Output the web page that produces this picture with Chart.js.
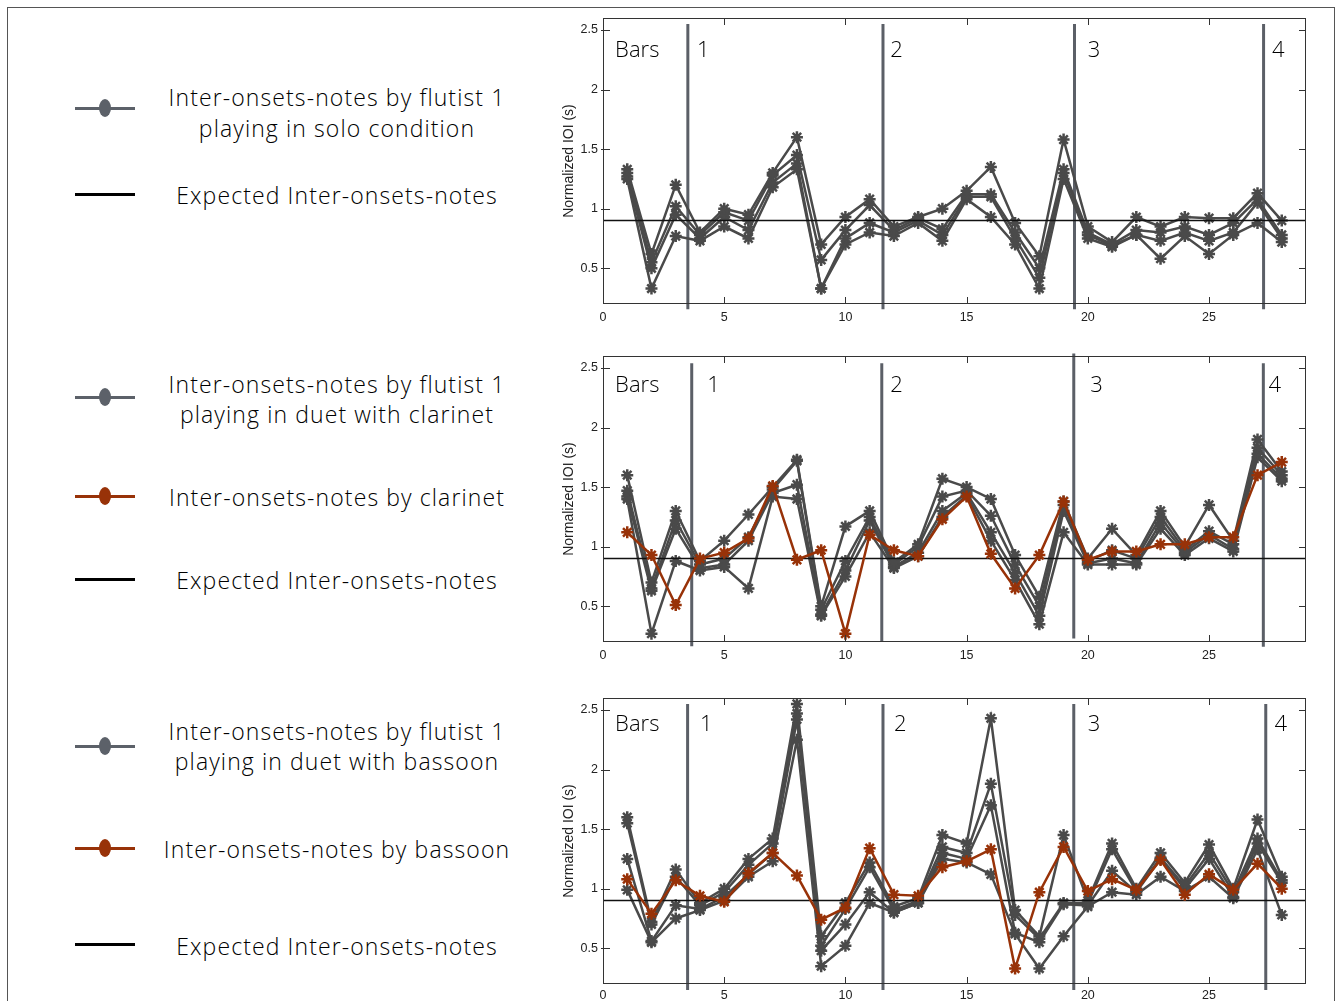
<!DOCTYPE html>
<html><head><meta charset="utf-8">
<script src="https://cdn.jsdelivr.net/npm/chart.js@4.4.1/dist/chart.umd.min.js"></script>
<style>
html,body{margin:0;padding:0;background:#fff;}
body{width:1340px;height:1001px;position:relative;overflow:hidden;font-family:"Open Sans",Roboto,"Liberation Sans",sans-serif;}
#frame{position:absolute;left:7px;top:7px;width:1326px;height:1000px;border:1px solid #555;border-bottom:none;}
canvas{position:absolute;}
.icon{position:absolute;left:75px;width:60px;height:3px;}
.dot{position:absolute;left:24px;top:-7.5px;width:12px;height:18px;border-radius:50%;}
.txt{position:absolute;left:137px;width:400px;text-align:center;font-size:23px;font-weight:300;letter-spacing:1.1px;color:#000;white-space:nowrap;}
</style></head>
<body>
<div id="frame"></div>
<canvas id="c1" width="790" height="335" style="left:545px;top:0px"></canvas>
<canvas id="c2" width="790" height="340" style="left:545px;top:335px"></canvas>
<canvas id="c3" width="790" height="326" style="left:545px;top:675px"></canvas>
<script>
// ---------- data ----------
const notes = [1,2,3,4,5,6,7,8,9,10,11,12,13,14,15,16,17,18,19,20,21,22,23,24,25,26,27,28];
const xTickVals = [0,5,10,15,20,25];
const yTickVals = [0.5,1,1.5,2,2.5];
const expectedIOI = 0.9;
const barLabels = ['Bars','1','2','3','4'];

// Panel 1: flutist 1 solo (4 takes)
const soloFlute1 = [1.33,0.62,1.20,0.80,1.00,0.95,1.30,1.60,0.70,0.93,1.08,0.85,0.93,1.00,1.15,1.35,0.88,0.60,1.58,0.85,0.72,0.93,0.85,0.93,0.92,0.92,1.13,0.90];
const soloFlute2 = [1.30,0.55,1.02,0.78,0.97,0.90,1.28,1.45,0.57,0.82,1.03,0.82,0.92,0.83,1.12,1.12,0.80,0.50,1.33,0.80,0.70,0.82,0.80,0.85,0.78,0.88,1.08,0.78];
const soloFlute3 = [1.27,0.50,0.95,0.75,0.93,0.82,1.22,1.38,0.33,0.75,0.88,0.80,0.90,0.78,1.10,1.10,0.75,0.42,1.30,0.78,0.69,0.78,0.73,0.80,0.73,0.80,1.05,0.75];
const soloFlute4 = [1.25,0.33,0.77,0.73,0.85,0.75,1.18,1.33,0.33,0.70,0.80,0.77,0.88,0.73,1.08,0.93,0.70,0.33,1.25,0.75,0.68,0.78,0.58,0.77,0.62,0.78,0.88,0.72];

// Panel 2: flutist 1 in duet with clarinet
const clarFlute1 = [1.60,0.70,1.30,0.88,1.05,1.27,1.50,1.73,0.50,1.17,1.30,0.87,1.02,1.57,1.50,1.40,0.93,0.58,1.38,0.90,1.15,0.93,1.30,1.00,1.35,1.05,1.90,1.63];
const clarFlute2 = [1.47,0.65,1.22,0.85,0.90,1.08,1.48,1.72,0.47,0.88,1.25,0.85,1.00,1.42,1.47,1.26,0.85,0.50,1.35,0.88,0.97,0.90,1.25,0.97,1.13,1.02,1.83,1.60];
const clarFlute3 = [1.42,0.63,1.15,0.82,0.85,1.05,1.45,1.52,0.43,0.80,1.22,0.83,0.95,1.30,1.45,1.12,0.78,0.42,1.30,0.86,0.90,0.86,1.20,0.95,1.10,0.98,1.78,1.57];
const clarFlute4 = [1.40,0.27,0.88,0.80,0.83,0.65,1.42,1.40,0.42,0.75,1.12,0.82,0.92,1.25,1.43,1.05,0.72,0.35,1.12,0.85,0.85,0.85,1.15,0.93,1.07,0.96,1.75,1.55];
const clarinet   = [1.12,0.93,0.51,0.90,0.95,1.07,1.51,0.89,0.97,0.27,1.10,0.97,0.92,1.23,1.42,0.94,0.65,0.93,1.38,0.89,0.96,0.96,1.02,1.02,1.08,1.08,1.60,1.71];

// Panel 3: flutist 1 in duet with bassoon
const bassFlute1 = [1.60,0.72,1.16,0.88,1.00,1.25,1.42,2.55,0.60,0.88,1.22,0.85,0.92,1.45,1.38,2.43,0.82,0.60,1.45,0.90,1.38,1.00,1.30,1.05,1.37,1.00,1.58,1.10];
const bassFlute2 = [1.55,0.70,1.10,0.86,0.97,1.20,1.38,2.47,0.52,0.83,1.18,0.82,0.90,1.35,1.30,1.88,0.78,0.58,0.88,0.88,1.33,0.98,1.26,1.02,1.30,0.97,1.42,1.07];
const bassFlute3 = [1.25,0.56,0.86,0.83,0.93,1.12,1.30,2.42,0.48,0.70,0.97,0.80,0.88,1.30,1.25,1.70,0.63,0.55,0.87,0.86,1.15,0.97,1.25,1.00,1.25,0.93,1.38,1.05];
const bassFlute4 = [0.99,0.55,0.75,0.82,0.90,1.10,1.23,2.25,0.35,0.52,0.88,0.80,0.88,1.25,1.22,1.12,0.62,0.33,0.60,0.85,0.97,0.95,1.10,0.98,1.10,0.92,1.33,0.78];
const bassoon    = [1.08,0.79,1.07,0.94,0.89,1.13,1.30,1.11,0.74,0.84,1.34,0.95,0.94,1.18,1.23,1.33,0.33,0.97,1.35,0.98,1.08,0.99,1.24,0.95,1.12,0.99,1.21,1.00];

// bar boundary positions (in note units) and label anchors per panel
const barLines1 = [3.5, 11.55, 19.45, 27.25];
const barLines2 = [3.66, 11.5, 19.42, 27.24];
const barLines3 = [3.49, 11.55, 19.42, 27.34];
const barLabelX1 = [0.5, 3.88, 11.85, 20.0, 27.6];
const barLabelX2 = [0.5, 4.3, 11.85, 20.1, 27.45];
const barLabelX3 = [0.5, 4.0, 12.0, 20.0, 27.7];

const legendTexts = {
  solo: ['Inter-onsets-notes by flutist 1','playing in solo condition'],
  clar: ['Inter-onsets-notes by flutist 1','playing in duet with clarinet'],
  bass: ['Inter-onsets-notes by flutist 1','playing in duet with bassoon'],
  clarinet: ['Inter-onsets-notes by clarinet'],
  bassoon: ['Inter-onsets-notes by bassoon'],
  expected: ['Expected Inter-onsets-notes']
};

// ---------- styling ----------
const GRAY = '#4a4a4a';
const ORANGE = '#983208';
const LEG_GRAY = '#5c6169';
const BARLINE = '#5b5f67';
const TICKFONT = {size:12.5, family:'"Liberation Sans", Arial, sans-serif'};

function toPts(vals){ return notes.map((n,i)=>({x:n,y:vals[i]})); }

function seriesDS(vals, color, order){
  return {data:toPts(vals), borderColor:color, backgroundColor:color, borderWidth:2.5,
    pointStyle:'star', pointRadius:6, pointBorderWidth:2.5, pointBorderColor:color,
    pointBackgroundColor:color, tension:0, order:order};
}

const decor = {
  id:'decor',
  beforeDatasetsDraw(chart, args, o){
    const {ctx, scales:{x,y}} = chart;
    ctx.save();
    ctx.strokeStyle = BARLINE; ctx.lineWidth = 3;
    o.lines.forEach((v,i)=>{
      const px = x.getPixelForValue(v);
      ctx.beginPath();
      ctx.moveTo(px, y.getPixelForValue(o.lineTop[i]));
      ctx.lineTo(px, y.getPixelForValue(o.lineBot[i]));
      ctx.stroke();
    });
    ctx.fillStyle = '#000';
    ctx.font = '300 22px "Open Sans", Roboto, sans-serif';
    ctx.textAlign = 'left'; ctx.textBaseline = 'alphabetic';
    barLabels.forEach((t,i)=>{
      ctx.fillText(t, x.getPixelForValue(o.labelX[i]), y.getPixelForValue(o.labelY));
    });
    ctx.restore();
  },
  afterDraw(chart){
    const {ctx, chartArea:a, scales:{x,y}} = chart;
    ctx.save();
    ctx.strokeStyle = '#333'; ctx.lineWidth = 1;
    ctx.strokeRect(Math.round(a.left)+0.5, Math.round(a.top)+0.5, Math.round(a.width)-1, Math.round(a.height)-1);
    ctx.beginPath();
    xTickVals.forEach(v=>{
      const px = Math.round(x.getPixelForValue(v))+0.5;
      ctx.moveTo(px, a.bottom); ctx.lineTo(px, a.bottom-7);
      ctx.moveTo(px, a.top); ctx.lineTo(px, a.top+7);
    });
    yTickVals.forEach(v=>{
      const py = Math.round(y.getPixelForValue(v))+0.5;
      ctx.moveTo(a.left-2, py); ctx.lineTo(a.left+7, py);
      ctx.moveTo(a.right, py); ctx.lineTo(a.right-7, py);
    });
    ctx.stroke();
    // y axis title
    ctx.translate(a.left-34, (a.top+a.bottom)/2);
    ctx.rotate(-Math.PI/2);
    ctx.fillStyle = '#222';
    ctx.font = '14px "Liberation Sans", Arial, sans-serif';
    ctx.textAlign = 'center'; ctx.textBaseline = 'middle';
    ctx.fillText('Normalized IOI (s)', 0, 0);
    ctx.restore();
  }
};

function makePanel(id, h, top, grays, extra, decorOpts){
  const bottomH = h - decorOpts.chartBottom;
  const ds = grays.map(g=>seriesDS(g, GRAY, 2));
  if (extra) ds.push(seriesDS(extra, ORANGE, 0));
  ds.push({data:[{x:0,y:expectedIOI},{x:29,y:expectedIOI}], borderColor:'#111', borderWidth:1.5, pointRadius:0, order:1});
  new Chart(document.getElementById(id), {
    type:'line',
    data:{datasets:ds},
    options:{
      responsive:false, animation:false, events:[],
      layout:{padding:{top:top, right:29, left:0, bottom:0}},
      plugins:{legend:{display:false}, tooltip:{enabled:false}, decor:decorOpts},
      scales:{
        x:{type:'linear', min:0, max:29,
          afterBuildTicks:s=>{s.ticks = xTickVals.map(v=>({value:v}));},
          afterFit:s=>{s.height = bottomH;},
          grid:{display:false, drawTicks:false, tickLength:0}, border:{display:false},
          ticks:{padding:decorOpts.xPad, color:'#222', font:TICKFONT, maxRotation:0, autoSkip:false}},
        y:{type:'linear', min:0.2, max:2.6,
          afterBuildTicks:s=>{s.ticks = yTickVals.map(v=>({value:v}));},
          afterFit:s=>{s.width = 58;},
          grid:{display:false, drawTicks:false, tickLength:0}, border:{display:false},
          ticks:{padding:5, color:'#222', font:TICKFONT, callback:v=>String(v)}}
      }
    },
    plugins:[decor]
  });
}

makePanel('c1', 335, 18, [soloFlute1,soloFlute2,soloFlute3,soloFlute4], null,
  {chartBottom:304, xPad:6, lines:barLines1, lineTop:[2.55,2.55,2.55,2.55], lineBot:[0.155,0.155,0.155,0.155], labelX:barLabelX1, labelY:2.27});
makePanel('c2', 340, 21, [clarFlute1,clarFlute2,clarFlute3,clarFlute4], clarinet,
  {chartBottom:307, xPad:6, lines:barLines2, lineTop:[2.54,2.54,2.62,2.54], lineBot:[0.165,0.2,0.23,0.16], labelX:barLabelX2, labelY:2.3});
makePanel('c3', 326, 23, [bassFlute1,bassFlute2,bassFlute3,bassFlute4], bassoon,
  {chartBottom:309, xPad:4, lines:barLines3, lineTop:[2.55,2.55,2.55,2.55], lineBot:[0.15,0.15,0.15,0.15], labelX:barLabelX3, labelY:2.32});

// ---------- left legend ----------
const legendItems = [
  {kind:'series', color:LEG_GRAY, iconY:108, textY:97, lh:31, text:legendTexts.solo},
  {kind:'line', color:'#000', iconY:194, textY:195, lh:31, text:legendTexts.expected},
  {kind:'series', color:LEG_GRAY, iconY:397, textY:384, lh:30, text:legendTexts.clar},
  {kind:'series', color:ORANGE, iconY:496, textY:497, lh:31, text:legendTexts.clarinet},
  {kind:'line', color:'#000', iconY:579, textY:580, lh:31, text:legendTexts.expected},
  {kind:'series', color:LEG_GRAY, iconY:746, textY:731, lh:30, text:legendTexts.bass},
  {kind:'series', color:ORANGE, iconY:848, textY:849, lh:31, text:legendTexts.bassoon},
  {kind:'line', color:'#000', iconY:944, textY:946, lh:31, text:legendTexts.expected}
];
legendItems.forEach(it=>{
  const ic = document.createElement('div');
  ic.className = 'icon';
  ic.style.top = (it.iconY-1.5)+'px';
  ic.style.background = it.color;
  if (it.kind==='series'){
    const d = document.createElement('div');
    d.className='dot'; d.style.background = it.color;
    ic.appendChild(d);
  }
  document.body.appendChild(ic);
  const t = document.createElement('div');
  t.className='txt';
  t.style.lineHeight = it.lh+'px';
  t.style.top = (it.textY - it.lh/2)+'px';
  t.innerHTML = it.text.join('<br>');
  document.body.appendChild(t);
});
</script>
</body></html>
